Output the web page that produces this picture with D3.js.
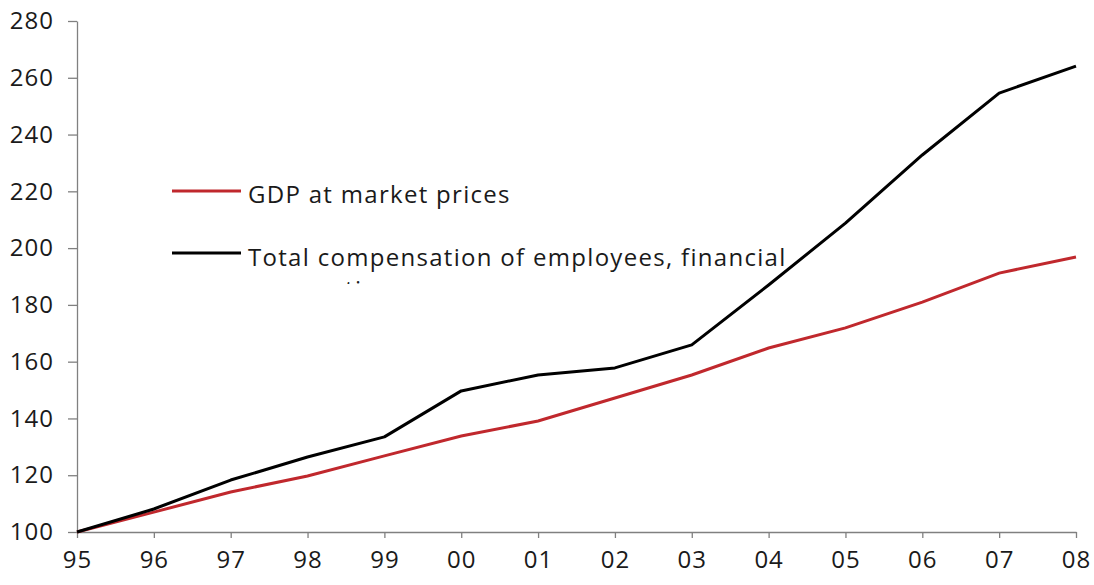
<!DOCTYPE html>
<html>
<head>
<meta charset="utf-8">
<script src="https://cdn.jsdelivr.net/npm/d3@7"></script>
<style>
  body { margin: 0; background: #fff; }
  svg { display: block; font-family: "Open Sans", sans-serif; }
  .axis path, .axis line { stroke: #808080; stroke-width: 1.3; }
  .axis text { fill: #1a1a1a; font-size: 24px; font-family: "Open Sans", sans-serif; letter-spacing: 1px; }
  .leg { fill: #1a1a1a; font-size: 24px; letter-spacing: 1.3px; }
</style>
</head>
<body>
<div id="chart"></div>
<script>
// years along the bottom
var years = ["95","96","97","98","99","00","01","02","03","04","05","06","07","08"];
// index, 1995 = 100
var gdp = [100, 107, 114.1, 119.7, 126.8, 133.8, 139.1, 147.2, 155.3, 164.8, 171.9, 181, 191.2, 196.9];
var compensation = [100, 108.1, 118.3, 126.4, 133.5, 149.7, 155.3, 157.8, 165.9, 187, 208.8, 232.8, 254.6, 264.1];
var yTicks = [100, 120, 140, 160, 180, 200, 220, 240, 260, 280];
var seriesNames = ["GDP at market prices", "Total compensation of employees, financial corporations"];

var width = 1094, height = 585;
var margin = {top: 21, right: 18, bottom: 53, left: 77};

var svg = d3.select("#chart")
  .append("svg")
  .attr("width", width)
  .attr("height", height);

var x = d3.scalePoint()
  .domain(years)
  .range([margin.left, width - margin.right]);

var y = d3.scaleLinear()
  .domain([100, 280])
  .range([height - margin.bottom, margin.top]);

// axes
svg.append("g")
  .attr("class", "axis")
  .attr("transform", "translate(0," + (height - margin.bottom) + ")")
  .call(d3.axisBottom(x).tickSize(6).tickSizeOuter(0).tickPadding(22))
  .selectAll("text").attr("dy", "0.35em");

svg.append("g")
  .attr("class", "axis")
  .attr("transform", "translate(" + margin.left + ",0)")
  .call(d3.axisLeft(y).tickValues(yTicks).tickSize(9).tickSizeOuter(0).tickPadding(14));

var line = d3.line()
  .x(function(d, i) { return x(years[i]); })
  .y(function(d) { return y(d); });

// legend sits under the lines, clipped at its bottom edge
var clip = svg.append("clipPath").attr("id", "legclip");
clip.append("rect").attr("x", 150).attr("y", 160).attr("width", 700).attr("height", 124);

var legend = svg.append("g").attr("clip-path", "url(#legclip)");
var legColors = ["#c0282d", "#000"];
var legY = [191, 253];

legend.selectAll("line")
  .data(seriesNames)
  .enter()
  .append("line")
  .attr("x1", 172).attr("x2", 241)
  .attr("y1", function(d, i) { return legY[i]; })
  .attr("y2", function(d, i) { return legY[i]; })
  .attr("stroke", function(d, i) { return legColors[i]; })
  .attr("stroke-width", 3);

legend.append("text")
  .attr("class", "leg")
  .attr("x", 248).attr("y", 203)
  .text(seriesNames[0]);

var t2 = legend.append("text")
  .attr("class", "leg")
  .attr("x", 248).attr("y", 266);
t2.append("tspan").attr("x", 248).text("Total compensation of employees, financial");
t2.append("tspan").attr("x", 248).attr("dy", 32).text("corporations");

svg.append("path")
  .datum(gdp)
  .attr("fill", "none")
  .attr("stroke", "#c0282d")
  .attr("stroke-width", 3)
  .attr("d", line);

svg.append("path")
  .datum(compensation)
  .attr("fill", "none")
  .attr("stroke", "#000")
  .attr("stroke-width", 3)
  .attr("stroke-linejoin", "round")
  .attr("d", line);
</script>
</body>
</html>
